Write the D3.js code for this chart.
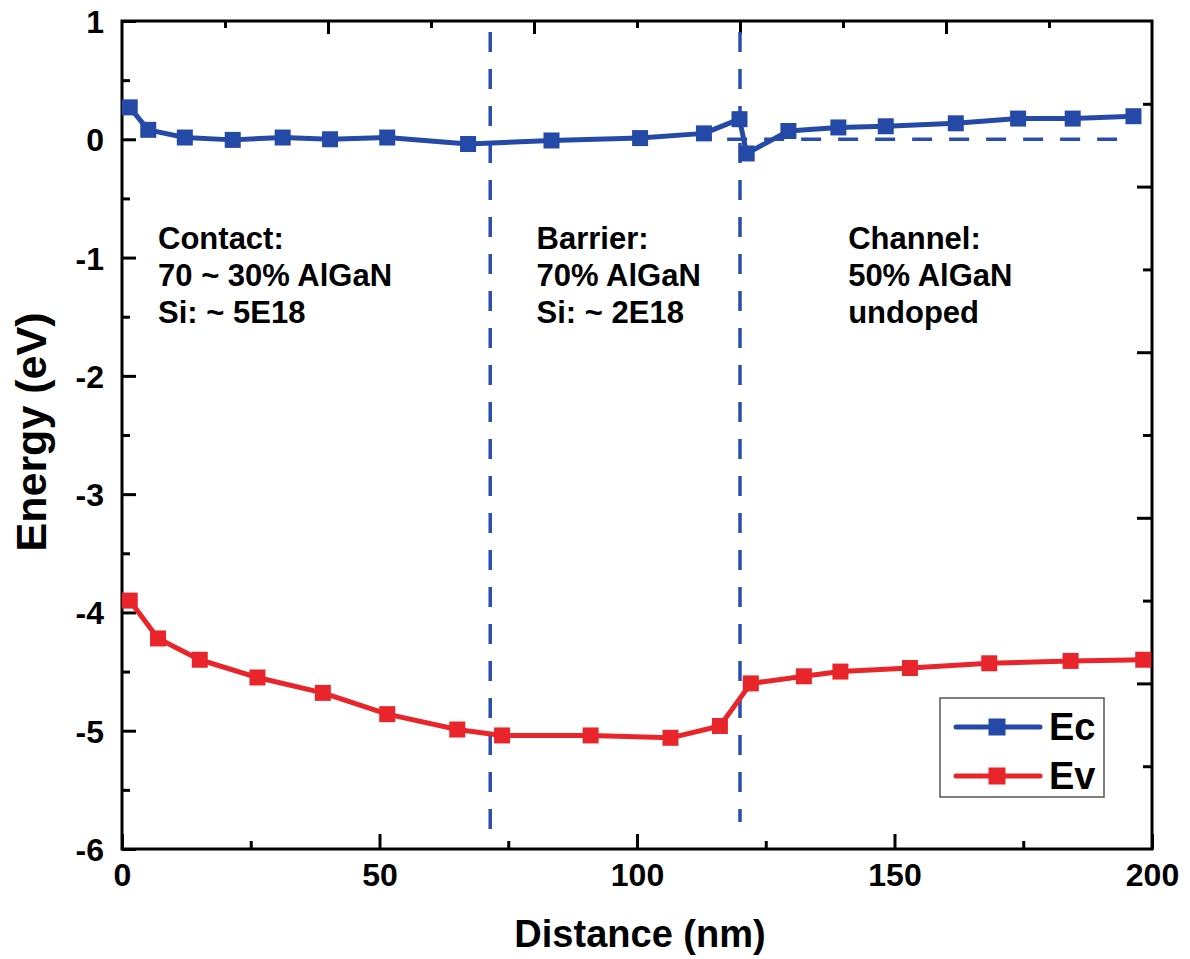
<!DOCTYPE html>
<html>
<head>
<meta charset="utf-8">
<script src="https://cdn.jsdelivr.net/npm/d3@7/dist/d3.min.js"></script>
<style>
  html, body { margin: 0; padding: 0; background: #fff; }
  svg { display: block; }
  text { font-family: "Liberation Sans", Arial, sans-serif; font-weight: bold; fill: #000; }
</style>
</head>
<body>
<svg id="chart" width="1190" height="959"></svg>
<script>
// Band-edge profile along the device depth
const distEc = [1.5, 5.1, 12.2, 21.5, 31.2, 40.4, 51.5, 67.2, 83.4, 100.6, 113.0, 119.9, 121.3, 129.4, 139.1, 148.3, 161.9, 174.0, 184.6, 196.4];
const ecVals = [0.27, 0.08, 0.015, -0.005, 0.015, 0.0, 0.015, -0.04, -0.01, 0.01, 0.05, 0.17, -0.12, 0.07, 0.10, 0.11, 0.135, 0.175, 0.175, 0.195];
const distEv = [1.5, 7.0, 15.1, 26.3, 39.0, 51.5, 65.1, 73.8, 91.0, 106.5, 116.1, 122.1, 132.4, 139.5, 153.0, 168.4, 184.2, 198.3];
const evVals = [-3.90, -4.22, -4.40, -4.55, -4.68, -4.86, -4.99, -5.04, -5.04, -5.06, -4.96, -4.60, -4.54, -4.50, -4.47, -4.43, -4.41, -4.40];

// Layer boundaries (nm) and Fermi level reference (eV)
const boundaries = [71.5, 120];
const fermiLevel = 0;
const fermiSpan = [117.5, 193.5];

const xTicks = [0, 50, 100, 150, 200];
const yTicks = [1, 0, -1, -2, -3, -4, -5, -6];

const regionLabels = [
  { x: 7, lines: ["Contact:", "70 ~ 30% AlGaN", "Si: ~ 5E18"] },
  { x: 80.5, lines: ["Barrier:", "70% AlGaN", "Si: ~ 2E18"] },
  { x: 141, lines: ["Channel:", "50% AlGaN", "undoped"] }
];

const seriesNames = ["Ec", "Ev"];
const blue = "#2549a7";
const red = "#e8252b";
const dashBlue = "#2a4db0";

const svg = d3.select("#chart");
const L = 122, R = 1152, T = 21, B = 849;

const x = d3.scaleLinear().domain([0, 200]).range([L, R]);
const y = d3.scaleLinear().domain([-6, 1]).range([B, T]);
const yRight = d3.scaleLinear().domain([0, 10]).range([B, T]);

// plain hyphen-minus for negative labels
const fmt = d => String(d);

// Axes with inward ticks
function styleAxis(g) {
  g.select(".domain").remove();
  g.selectAll(".tick line").attr("stroke", "#000").attr("stroke-width", 3);
}

// bottom
svg.append("g").attr("transform", `translate(0,${B})`)
  .call(d3.axisBottom(x).tickValues(xTicks).tickSize(-15).tickFormat(fmt).tickPadding(21))
  .call(styleAxis)
  .call(g => g.selectAll("text").attr("font-size", 32).attr("dy", "0.5em"));
svg.append("g").attr("transform", `translate(0,${B})`)
  .call(d3.axisBottom(x).tickValues([25, 75, 125, 175]).tickSize(-8).tickFormat(""))
  .call(styleAxis);

// left
svg.append("g").attr("transform", `translate(${L},0)`)
  .call(d3.axisLeft(y).tickValues(yTicks).tickSize(-14).tickFormat(fmt).tickPadding(18))
  .call(styleAxis)
  .call(g => g.selectAll("text").attr("font-size", 32).attr("dy", "0.36em"));
svg.append("g").attr("transform", `translate(${L},0)`)
  .call(d3.axisLeft(y).tickValues(d3.range(-5.5, 1, 1)).tickSize(-8).tickFormat(""))
  .call(styleAxis);

// top
svg.append("g").attr("transform", `translate(0,${T})`)
  .call(d3.axisTop(x).tickValues([40, 80, 120, 160]).tickSize(-13).tickFormat(""))
  .call(styleAxis);
svg.append("g").attr("transform", `translate(0,${T})`)
  .call(d3.axisTop(x).tickValues([20, 60, 100, 140, 180]).tickSize(-7).tickFormat(""))
  .call(styleAxis);

// right
svg.append("g").attr("transform", `translate(${R},0)`)
  .call(d3.axisRight(yRight).tickValues([2, 4, 6, 8]).tickSize(-15).tickFormat(""))
  .call(styleAxis);
svg.append("g").attr("transform", `translate(${R},0)`)
  .call(d3.axisRight(yRight).tickValues([1, 3, 5, 7, 9]).tickSize(-9).tickFormat(""))
  .call(styleAxis);

// frame
svg.append("rect").attr("x", L).attr("y", T).attr("width", R - L).attr("height", B - T)
  .attr("fill", "none").attr("stroke", "#000").attr("stroke-width", 3);

// Layer boundaries
const boundaryEnds = [832, 822];
svg.selectAll(".boundary").data(boundaries).join("line")
  .attr("class", "boundary")
  .attr("x1", d => x(d)).attr("x2", d => x(d))
  .attr("y1", 32).attr("y2", (d, i) => boundaryEnds[i])
  .attr("stroke", dashBlue).attr("stroke-width", 3.5)
  .attr("stroke-dasharray", "20 17");

// Fermi level
svg.append("line")
  .attr("x1", x(fermiSpan[0])).attr("x2", x(fermiSpan[1]))
  .attr("y1", y(fermiLevel)).attr("y2", y(fermiLevel))
  .attr("stroke", dashBlue).attr("stroke-width", 3.5)
  .attr("stroke-dasharray", "20 17");

// Region annotations
regionLabels.forEach(r => {
  const t = svg.append("text").attr("font-size", 31);
  r.lines.forEach((s, i) => {
    t.append("tspan").attr("x", x(r.x)).attr("y", 249 + i * 37).text(s);
  });
});

// Series
const series = [
  { name: seriesNames[0], xs: distEc, ys: ecVals, color: blue },
  { name: seriesNames[1], xs: distEv, ys: evVals, color: red }
];
const line = d3.line().x(d => x(d[0])).y(d => y(d[1]));
const M = 16;
series.forEach(s => {
  const pts = s.xs.map((v, i) => [v, s.ys[i]]);
  svg.append("path").datum(pts).attr("d", line)
    .attr("fill", "none").attr("stroke", s.color).attr("stroke-width", 5)
    .attr("stroke-linejoin", "round");
  svg.append("g").selectAll("rect").data(pts).join("rect")
    .attr("x", d => x(d[0]) - M / 2).attr("y", d => y(d[1]) - M / 2)
    .attr("width", M).attr("height", M).attr("fill", s.color);
});

// Legend
const lg = svg.append("g");
lg.append("rect").attr("x", 940).attr("y", 698).attr("width", 164).attr("height", 99)
  .attr("fill", "#fff").attr("stroke", "#555").attr("stroke-width", 1.5);
series.forEach((s, i) => {
  const ly = 727 + i * 49;
  lg.append("line").attr("x1", 956).attr("x2", 1040).attr("y1", ly).attr("y2", ly)
    .attr("stroke", s.color).attr("stroke-width", 5).attr("stroke-linecap", "round");
  lg.append("rect").attr("x", 997 - 8.5).attr("y", ly - 8.5).attr("width", 17).attr("height", 17)
    .attr("fill", s.color);
  lg.append("text").attr("x", 1049).attr("y", ly + 13).attr("font-size", 38).text(s.name);
});

// Axis titles
svg.append("text").attr("x", (L + R) / 2 + 3).attr("y", 947).attr("text-anchor", "middle")
  .attr("font-size", 38).text("Distance (nm)");
svg.append("text").attr("transform", `translate(46,432) rotate(-90)`)
  .attr("text-anchor", "middle").attr("font-size", 43).text("Energy (eV)");
</script>
</body>
</html>
